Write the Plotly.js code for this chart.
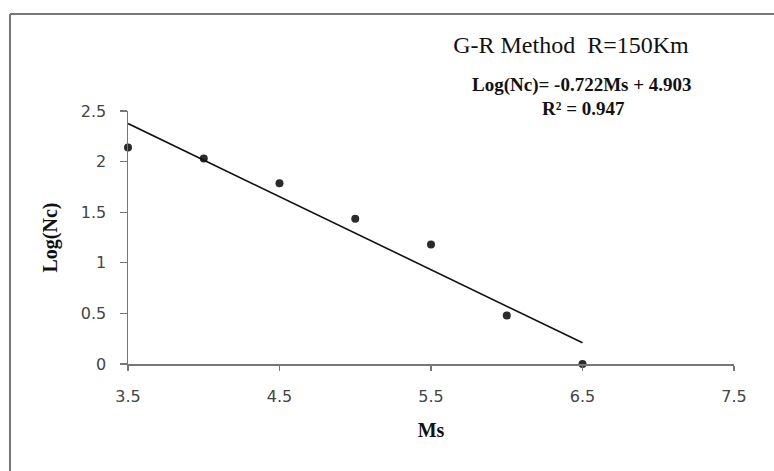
<!DOCTYPE html>
<html>
<head>
<meta charset="utf-8">
<script src="https://cdn.plot.ly/plotly-3.0.1.min.js"></script>
<style>html,body{margin:0;padding:0;background:#fff;}#chart{width:774px;height:471px;}</style>
</head>
<body>
<div id="chart"></div>
<script>
// Data
const ms = [3.5, 4.0, 4.5, 5.0, 5.5, 6.0, 6.5];
const logNc = [2.14, 2.03, 1.785, 1.435, 1.18, 0.48, 0.0];
const slope = -0.722;
const intercept = 4.903;
const trendX = [3.5, 6.5];
const trendY = trendX.map(x => slope * x + intercept);
const xTicks = [3.5, 4.5, 5.5, 6.5, 7.5];
const yTicks = [0, 0.5, 1, 1.5, 2, 2.5];

const L = 128, R = 734, T = 111, B = 364;
const W = 774, H = 471;
const px = x => (x - L) / (R - L);
const py = y => (B - y) / (B - T);

const traces = [
  {x: ms, y: logNc, mode: 'markers', type: 'scatter',
   marker: {color: '#2b2b2b', size: 8}, hoverinfo: 'x+y', cliponaxis: false},
  {x: trendX, y: trendY, mode: 'lines', type: 'scatter',
   line: {color: '#111', width: 1.6}, cliponaxis: false}
];

const serif = 'Liberation Serif, Times New Roman, serif';
const tickFont = {family: 'DejaVu Sans, Verdana, sans-serif', size: 16, color: '#444'};
const layout = {
  width: W, height: H,
  margin: {l: L, r: W - R, t: T, b: H - B, pad: 0},
  paper_bgcolor: '#fff', plot_bgcolor: 'rgba(0,0,0,0)',
  showlegend: false,
  title: {text: 'G-R Method  R=150Km', x: px(575), xanchor: 'center', y: 1 - 45 / H, yanchor: 'middle',
          font: {family: serif, size: 24, color: '#111'}},
  xaxis: {range: [3.5, 7.5], tickvals: xTicks, ticktext: xTicks.map(String),
          showgrid: false, zeroline: false, showline: true, linecolor: '#777', linewidth: 1.5,
          ticks: 'outside', ticklen: 5, tickcolor: '#777', tickwidth: 1.2, tickfont: tickFont,
          ticklabelstandoff: 12,
          title: {text: '<b>Ms</b>', standoff: 18, font: {family: serif, size: 20, color: '#111'}}},
  yaxis: {range: [0, 2.5], tickvals: yTicks, ticktext: yTicks.map(String),
          showgrid: false, zeroline: false, showline: true, linecolor: '#777', linewidth: 1.5,
          ticks: 'outside', ticklen: 7, tickcolor: '#777', tickwidth: 1.2, tickfont: tickFont,
          ticklabelstandoff: 10,
          title: {text: '<b>Log(Nc)</b>', standoff: 18, font: {family: serif, size: 20, color: '#111'}}},
  annotations: [
    {xref: 'paper', yref: 'paper', x: px(582), y: py(85), xanchor: 'center', yanchor: 'middle', showarrow: false,
     text: '<b>Log(Nc)= -0.722Ms + 4.903</b>', font: {family: serif, size: 19, color: '#111'}},
    {xref: 'paper', yref: 'paper', x: px(583), y: py(108), xanchor: 'center', yanchor: 'middle', showarrow: false,
     text: '<b>R² = 0.947</b>', font: {family: serif, size: 19, color: '#111'}}
  ],
  shapes: [
    {type: 'line', xref: 'paper', yref: 'paper', x0: px(10), x1: px(W + 5), y0: py(14), y1: py(14), line: {color: '#777', width: 2}},
    {type: 'line', xref: 'paper', yref: 'paper', x0: px(10), x1: px(10), y0: py(14), y1: py(H + 5), line: {color: '#777', width: 2}}
  ]
};

Plotly.newPlot('chart', traces, layout, {displayModeBar: false, staticPlot: true});
</script>
</body>
</html>
